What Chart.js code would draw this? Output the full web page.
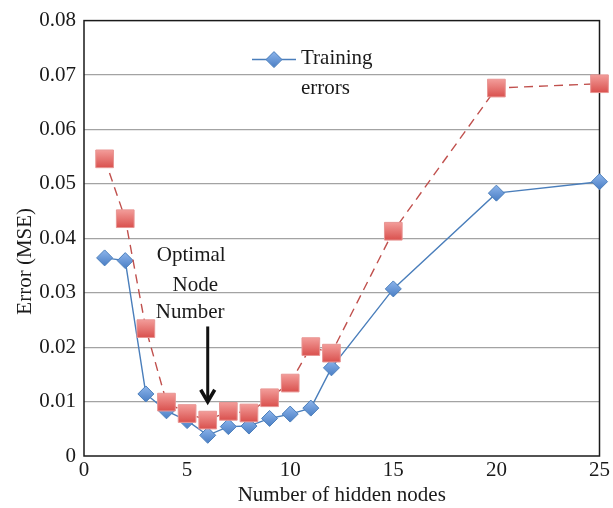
<!DOCTYPE html>
<html>
<head>
<meta charset="utf-8">
<script src="https://cdn.jsdelivr.net/npm/chart.js@4"></script>
<style>
  html, body { margin: 0; padding: 0; background: #fff; }
  #wrap { width: 613px; height: 508px; }
</style>
</head>
<body>
<div id="wrap"><canvas id="chart" width="613" height="508"></canvas></div>
<script>
// data
const nodes = [1, 2, 3, 4, 5, 6, 7, 8, 9, 10, 11, 12, 15, 20, 25];
const trainErr = [0.0364, 0.0359, 0.0114, 0.0083, 0.0065, 0.0038, 0.0054, 0.0055, 0.0069, 0.0077, 0.0088, 0.0162, 0.0307, 0.0483, 0.0504];
const testErr = [0.0546, 0.0436, 0.0234, 0.0099, 0.0078, 0.0066, 0.0082, 0.0079, 0.0107, 0.0134, 0.0201, 0.0189, 0.0413, 0.0676, 0.0684];
const xTicks = [0, 5, 10, 15, 20, 25];
const yTicks = [0, 0.01, 0.02, 0.03, 0.04, 0.05, 0.06, 0.07, 0.08];

const FONT = "'Liberation Serif', 'DejaVu Serif', serif";
const BLUE_LINE = "#4a7ebb";
const BLUE_FILL = "#5b8fd8";
const RED_LINE = "#c0504d";
const RED_FILL = "#e4605e";

function pts(xs, ys) {
  return xs.map((x, i) => ({ x: x, y: ys[i] }));
}

// vertical gradient across one marker, light on top
function markerFill(top, bottom, half) {
  return function (context) {
    const chart = context.chart;
    const ys = chart.scales.y;
    if (!ys || !context.raw || !chart.chartArea) return bottom;
    const py = ys.getPixelForValue(context.raw.y);
    const g = chart.ctx.createLinearGradient(0, py - half, 0, py + half);
    g.addColorStop(0, top);
    g.addColorStop(1, bottom);
    return g;
  };
}

// **Frame, annotation, legend and y title**
const decorations = {
  id: "decorations",
  beforeDatasetsDraw(chart) {
    const { ctx, chartArea: a } = chart;
    ctx.save();
    ctx.strokeStyle = "#1a1a1a";
    ctx.lineWidth = 1.5;
    ctx.strokeRect(a.left, a.top, a.right - a.left, a.bottom - a.top);
    ctx.restore();
  },
  afterDraw(chart) {
    const { ctx, chartArea: a } = chart;
    const xs = chart.scales.x, ys = chart.scales.y;
    ctx.save();
    ctx.fillStyle = "#1a1a1a";
    ctx.font = "21px " + FONT;
    ctx.textAlign = "center";
    ctx.textBaseline = "middle";
    ctx.fillText("Optimal", xs.getPixelForValue(5.2), ys.getPixelForValue(0.0368));
    ctx.fillText("Node", xs.getPixelForValue(5.4), ys.getPixelForValue(0.0314));
    ctx.fillText("Number", xs.getPixelForValue(5.15), ys.getPixelForValue(0.0263));

    // arrow
    const ax = xs.getPixelForValue(6);
    const y0 = ys.getPixelForValue(0.0238);
    const y1 = ys.getPixelForValue(0.0096);
    ctx.strokeStyle = "#111";
    ctx.lineWidth = 3;
    ctx.beginPath();
    ctx.moveTo(ax, y0);
    ctx.lineTo(ax, y1 - 4);
    ctx.stroke();
    ctx.lineWidth = 3.5;
    ctx.lineJoin = "miter";
    ctx.beginPath();
    ctx.moveTo(ax - 7, y1 - 14);
    ctx.lineTo(ax, y1 - 2);
    ctx.lineTo(ax + 7, y1 - 14);
    ctx.stroke();

    // legend (training series only)
    const ly = a.top + 39;
    const lx = a.left + 168;
    ctx.strokeStyle = BLUE_LINE;
    ctx.lineWidth = 1.5;
    ctx.beginPath();
    ctx.moveTo(lx, ly);
    ctx.lineTo(lx + 44, ly);
    ctx.stroke();
    const g = ctx.createLinearGradient(0, ly - 8, 0, ly + 8);
    g.addColorStop(0, "#8db5ec");
    g.addColorStop(1, "#4a7ec4");
    ctx.fillStyle = g;
    ctx.strokeStyle = BLUE_LINE;
    ctx.lineWidth = 1;
    ctx.beginPath();
    ctx.moveTo(lx + 22 - 8, ly);
    ctx.lineTo(lx + 22, ly - 8);
    ctx.lineTo(lx + 22 + 8, ly);
    ctx.lineTo(lx + 22, ly + 8);
    ctx.closePath();
    ctx.fill();
    ctx.stroke();
    ctx.fillStyle = "#1a1a1a";
    ctx.textAlign = "left";
    ctx.fillText("Training", lx + 49, ly - 1);
    ctx.fillText("errors", lx + 49, ly + 29);

    // y axis title
    ctx.translate(25, (a.top + a.bottom) / 2 + 23);
    ctx.rotate(-Math.PI / 2);
    ctx.textAlign = "center";
    ctx.fillText("Error (MSE)", 0, 0);
    ctx.restore();
  }
};

new Chart(document.getElementById("chart"), {
  type: "line",
  data: {
    datasets: [
      {
        label: "Training errors",
        data: pts(nodes, trainErr),
        borderColor: BLUE_LINE,
        borderWidth: 1.4,
        backgroundColor: BLUE_FILL,
        pointStyle: "rectRot",
        pointRadius: 8,
        pointBorderColor: BLUE_LINE,
        pointBorderWidth: 1,
        pointBackgroundColor: markerFill("#8db5ec", "#4a7ec4", 8),
        tension: 0,
        clip: false,
        order: 1
      },
      {
        label: "Testing errors",
        data: pts(nodes, testErr),
        borderColor: RED_LINE,
        borderWidth: 1.4,
        borderDash: [9, 6],
        backgroundColor: RED_FILL,
        pointStyle: "rect",
        pointRadius: 12.5,
        pointBorderColor: "#e89593",
        pointBorderWidth: 1,
        pointBackgroundColor: markerFill("#f39d9a", "#d9504d", 9),
        tension: 0,
        clip: false,
        order: 0
      }
    ]
  },
  options: {
    responsive: false,
    animation: false,
    layout: { padding: { left: 0, right: 11, top: 15, bottom: 0 } },
    plugins: {
      legend: { display: false },
      tooltip: { enabled: false }
    },
    scales: {
      x: {
        type: "linear",
        min: 0,
        max: 25,
        afterFit(scale) {
          scale.height = 52;
          scale.paddingLeft = 0;
          scale.paddingRight = 0;
        },
        afterBuildTicks(scale) { scale.ticks = xTicks.map(v => ({ value: v })); },
        grid: { display: false, drawTicks: false },
        border: { display: false },
        ticks: {
          padding: 2,
          color: "#1a1a1a",
          font: { family: FONT, size: 21 },
          maxRotation: 0
        },
        title: {
          display: true,
          text: "Number of hidden nodes",
          color: "#1a1a1a",
          font: { family: FONT, size: 21 },
          padding: { top: 0, bottom: 0 }
        }
      },
      y: {
        min: 0,
        max: 0.08,
        afterFit(scale) { scale.width = 84; },
        afterBuildTicks(scale) { scale.ticks = yTicks.map(v => ({ value: v })); },
        grid: {
          color: ctx => (ctx.tick && (ctx.tick.value === 0 || ctx.tick.value === 0.08)) ? "rgba(0,0,0,0)" : "#a3a3a3",
          lineWidth: 1.3,
          drawTicks: false
        },
        border: { display: false },
        ticks: {
          padding: 8,
          color: "#1a1a1a",
          font: { family: FONT, size: 21 },
          callback: v => v === 0 ? "0" : v.toFixed(2)
        }
      }
    }
  },
  plugins: [decorations]
});
</script>
</body>
</html>
